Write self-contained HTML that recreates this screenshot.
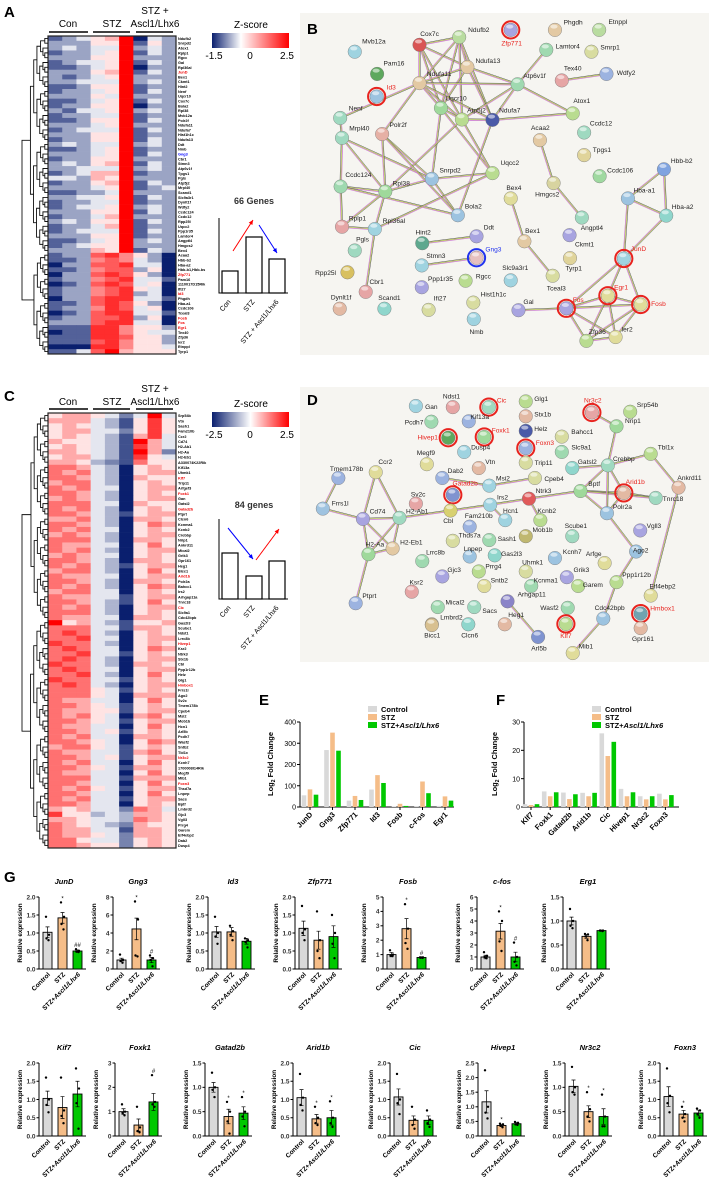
<!DOCTYPE html>
<html><head><meta charset="utf-8"><style>
html,body{margin:0;padding:0;background:#fff;}
svg{display:block;font-family:"Liberation Sans",Arial,sans-serif;}
</style></head><body>
<svg id="fig" width="711" height="1186" viewBox="0 0 711 1186" xmlns="http://www.w3.org/2000/svg">
<defs>
<linearGradient id="zgrad" x1="0" x2="1" y1="0" y2="0">
<stop offset="0" stop-color="#0a1f6e"/><stop offset="0.375" stop-color="#ffffff"/><stop offset="1" stop-color="#ff0000"/></linearGradient>
<linearGradient id="zgrad2" x1="0" x2="1" y1="0" y2="0">
<stop offset="0" stop-color="#0a1f6e"/><stop offset="0.5" stop-color="#ffffff"/><stop offset="1" stop-color="#ff0000"/></linearGradient>
</defs>
<rect x="300" y="13" width="409" height="342" fill="#f6f5f1"/>
<rect x="300" y="387" width="409" height="275" fill="#f6f5f1"/>
<g font-weight="bold" font-size="15">
<text x="4" y="17">A</text>
<text x="307" y="34">B</text>
<text x="4" y="401">C</text>
<text x="307" y="405">D</text>
<text x="259" y="705">E</text>
<text x="496" y="705">F</text>
<text x="4" y="882">G</text>
</g>
<g id="root"></g>
</svg>
<script>
const NS='http://www.w3.org/2000/svg';
const root=document.getElementById('root');
function mk(tag,a,p){const e=document.createElementNS(NS,tag);for(const k in a)e.setAttribute(k,a[k]);(p||root).appendChild(e);return e;}

/* ---------------- Heatmap data ---------------- */
const heatA=["123459032","222449142","232339232","122349132","222449222","123349132","112349022","222459132","212349222","223339232","112449122","122349132","222439222","112349132","122449022","213349232","122339122","112449132","222349222","123339132","222449122","122449132","232339232","112349122","222349132","122449222","232459132","223339232","123559122","332549222","122459132","222349123","112239222","223349132","122339122","123349232","222449132","122359222","232449132","122359122","123339132","222449122","112349232","123449222","222549132","122786420","112676320","022778330","112677240","022787420","122678331","012787340","122678430","122678230","022788331","112787420","122687340","012788331","122778240","222788330","111886442","011886433","111887442","111786442","000886443","113795444"];
const genesA=["Ndufb2","Snrpd2","Atox1","Rplp1","Rgcc","Gal","Rpl36al","JunD","Bex1","Ckmt1","Hint2","Nenf","Uqcr10","Cox7c","Bola2","Rpl38","Mvb12a","Polr2f","Ndufa11","Ndufa7","Hist1h1c","Ndufa13","Ddt","Nmb","Gng3","Cbr1","Stmn3","Atp6v1f","Tpgs1","Pgls","Atp5j2","Mrpl40","Scand1","Slc9a3r1","Dynlt1f","Wdfy2","Ccdc124","Ccdc12","Rpp25l","Uqcc2","Ppp1r35","Lamtor4","Angptl4","Hmgcs2","Bex4","Acaa2","Hbb-b2","Hba-a2","Hbb-b1,Hbb-bs","Zfp771","Pam16","1110017D15Rik","Ifi27","Id3","Phgdh","Hba-a1","Ccdc106","Tceal3","Fosb","Fos","Egr1","Tex40","Zfp36","Ier2","Etnppl","Tyrp1"];
const redA=["JunD","Zfp771","Id3","Fosb","Fos","Egr1"], blueA=["Gng3"];
const heatC=["566542494","666431585","565431585","566442585","565431684","655431964","565431864","665431962","566431854","665321755","776430565","767430566","776430655","677430565","767440566","776430565","676430566","777440655","767430565","776431566","667430665","776430576","767440565","676430566","777430665","766440575","767430566","676440565","776430665","767431566","677430575","766440566","776430665","767430576","677440565","766441566","776431575","767430566","777430565","766440665","956431556","777441665","787430565","778440566","877430565","787440576","778441565","787430566","877430665","787440566","778430575","877441565","787430566","777541565","777540666","766440575","776541565","766551566","767540675","776541566","766440575","776451565","767440665","776540576","677541565","766441675","776451566","767440575","776541665","766440575","777441666","776440575","767541566","776440575","767441566","776440565","656442764","855343665","665443765","765432655","766441665","766542665","775442565","776552565"];
const genesC=["Srp54b","Vtn","Sash1","Fam210b","Ccr2","Cd74","H2-Ab1","H2-Aa","H2-Eb1","A330074K22Rik","Kif13a","Uhmk1","Klf7","Trip11","Arfgef3","Foxk1","Gan","Gatsl2","Gatad2b","Ptprt","Clcn6","Kcnma1","Kcnb2","Crebbp","Nrip1","Ankrd11","Mical2","Grik3","Gpr161","Heg1","Bicc1","Arid1b","Polr2a","Bahcc1","Irs2","Arhgap11a","Tnrc18","Cic","Slc9a1","Cdc42bpb","Gas2l3","Scube1","Ndst1","Lrrc8b","Hivep1","Ksr2","Ntrk3","Stx1b","Cbl","Ppp1r12b","Helz","Glg1","Hmbox1","Frrs1l","Ago2","Sv2c","Tmem178b","Cpeb4","Msi2","Mob1b","Hcn1","Arl5b","Pcdh7","Wasf2","Sntb2","Tbl1x","Nr3c2","Kcnh7","1700008I14Rik","Megf9","Mib1","Foxn3","Thsd7a","Lnpep","Sacs","Bptf","Lmbrd2","Gjc3","Vgll3","Prrg4","Garem","Eif4ebp2","Dab2","Dusp4"];
const redC=["Klf7","Foxk1","Gatad2b","Arid1b","Cic","Hivep1","Hmbox1","Nr3c2","Foxn3"];

function mix(a,b,t){return 'rgb('+[0,1,2].map(i=>Math.round(a[i]+(b[i]-a[i])*t)).join(',')+')';}
function zcol(z,min,max){const W=[255,255,255],B=[10,31,110],R=[255,0,0];
  if(z<0)return mix(W,B,Math.min(1,z/min));return mix(W,R,Math.min(1,z/max));}

function heatmap(rows,genes,reds,blues,min,max,x0,y0,x1,y1,split,name){
  const g=mk('g',{});
  
  
  const cw=(x1-x0)/9, rh=(y1-y0)/rows.length;
  rows.forEach((r,i)=>{
    for(let j=0;j<9;j++){
      const d=+r[j]; const z=min+d*(max-min)/9;
      const c=mk('rect',{x:x0+j*cw,y:y0+i*rh,width:cw+0.3,height:rh+0.3,fill:zcol(z,min,max)},g);
      
      
    }
    const gn=genes[i]||'';
    const t=mk('text',{x:x1+2,y:y0+i*rh+rh*0.8,'font-size':3.8,'font-weight':'bold',fill:reds.includes(gn)?'#e00':(blues.includes(gn)?'#00f':'#000')},g);
    t.textContent=gn;
    
    
  });
  mk('rect',{x:x0,y:y0,width:x1-x0,height:y1-y0,fill:'none',stroke:'#222','stroke-width':1.2},g);
  // dendrogram
  const dg=mk('g',{stroke:'#111','stroke-width':0.9,fill:'none'},g);
  
  
  const maxH=x0-22;
  function build(lo,hi,lvl){
    if(hi-lo===1)return {y:y0+(lo+0.5)*rh,x:x0};
    let mid=(lvl===0&&split)?split:Math.floor((lo+hi)/2);
    const a=build(lo,mid,lvl+1), b=build(mid,hi,lvl+1);
    const n=hi-lo;
    const x=x0-Math.min(maxH,(Math.log2(n)*3.2)+(lvl===0?maxH:0));
    mk('path',{d:`M${a.x},${a.y}H${x}V${b.y}H${b.x}`},dg);
    return {y:(a.y+b.y)/2,x:x};
  }
  build(0,rows.length,0);
}
heatmap(heatA,genesA,redA,blueA,-1.5,2.5,48,36,176,354,45,'heatmap-a');
heatmap(heatC,genesC,redC,[],-2.5,2.5,48,413,176,848,40,'heatmap-c');

/* headers, colorbars, schematics */
function txt(x,y,s,attrs,name){const t=mk('text',Object.assign({x:x,y:y},attrs||{}));t.textContent=s;return t;}
function headers(yT,yM,yL,name){
  txt(68,yM,'Con',{'font-size':10,'text-anchor':'middle'},name+'-con');
  txt(112,yM,'STZ',{'font-size':10,'text-anchor':'middle'},name+'-stz');
  txt(155,yT,'STZ +',{'font-size':10,'text-anchor':'middle'},name+'-treat-1');
  txt(155,yM,'Ascl1/Lhx6',{'font-size':10,'text-anchor':'middle'},name+'-treat-2');
  [[49,88],[93,130],[136,173]].forEach(p=>{const l=mk('line',{x1:p[0],x2:p[1],y1:yL,y2:yL,stroke:'#000','stroke-width':1.5});});
}
headers(14,27,32,'header-a');
headers(392,405,409,'header-c');
function colorbar(y,grad,lo,name){
  txt(251,y-5,'Z-score',{'font-size':10,'text-anchor':'middle'},name+'-title');
  const r=mk('rect',{x:212,y:y,width:77,height:15,fill:'url(#'+grad+')'});
  
  txt(214,y+26,lo,{'font-size':10,'text-anchor':'middle'},name+'-min');
  txt(250,y+26,'0',{'font-size':10,'text-anchor':'middle'},name+'-zero');
  txt(287,y+26,'2.5',{'font-size':10,'text-anchor':'middle'},name+'-max');
}
colorbar(33,'zgrad','-1.5','colorbar-a');
colorbar(412,'zgrad2','-2.5','colorbar-c');

function schematic(title,ty,top,bot,hs,arrows,name){
  txt(254,ty,title,{'font-size':9,'font-weight':'bold','text-anchor':'middle',fill:'#333'},name+'-title');
  mk('path',{d:`M219,${top}V${bot}H288`,fill:'none',stroke:'#000','stroke-width':1});
  const xs=[222,246,269];
  hs.forEach((h,i)=>{const r=mk('rect',{x:xs[i],y:h,width:16,height:bot-h,fill:'none',stroke:'#000','stroke-width':1.2});});
  arrows.forEach(a=>{
    const l=mk('line',{x1:a[0],y1:a[1],x2:a[2],y2:a[3],stroke:a[4],'stroke-width':1});
    
    const ang=Math.atan2(a[3]-a[1],a[2]-a[0]);const s=5;
    mk('path',{d:`M${a[2]},${a[3]}L${a[2]-s*Math.cos(ang-0.45)},${a[3]-s*Math.sin(ang-0.45)}L${a[2]-s*Math.cos(ang+0.45)},${a[3]-s*Math.sin(ang+0.45)}Z`,fill:a[4]});
  });
  const ly=bot+9;
  txt(231,ly,'Con',{'font-size':7,'text-anchor':'end',transform:`rotate(-50 231 ${ly})`},name+'-label-con');
  txt(255,ly,'STZ',{'font-size':7,'text-anchor':'end',transform:`rotate(-50 255 ${ly})`},name+'-label-stz');
  txt(279,ly,'STZ + Ascl1/Lhx6',{'font-size':7,'text-anchor':'end',transform:`rotate(-50 279 ${ly})`},name+'-label-treat');
}
schematic('66 Genes',204,218,293,[271,237,259],[[233,251,253,220,'#f00'],[259,225,277,253,'#00f']],'schematic-a');
schematic('84 genes',508,519,599,[553,576,561],[[228,528,253,559,'#00f'],[256,560,279,529,'#f00']],'schematic-c');

/* ---------------- Networks ---------------- */
const SX=0.456, SY=0.383;
const nodesB=[["Cox7c",920,117,942,88,"#d95454",""],["Ndufb2",1007,97,1050,77,"#b9dca0",""],["Zfp771",1120,78,1122,113,"#a8a4e0","r"],["Phgdh",1217,78,1257,58,"#e3c9a3",""],["Etnppl",1314,78,1355,57,"#b9dca0",""],["Mvb12a",778,135,820,108,"#9fd3e0",""],["Pam16",827,193,864,165,"#5ea85e",""],["Ndufa13",1025,175,1070,158,"#e3c9a3",""],["Ndufa11",920,217,963,192,"#e3c9a3",""],["Lamtor4",1198,130,1245,120,"#9fd9b0",""],["Smrp1",1297,135,1338,123,"#d8dca0",""],["Tex40",1232,210,1256,178,"#e6a5a5",""],["Wdfy2",1330,193,1373,190,"#9cb3e0",""],["Atp6v1f",1135,220,1172,197,"#9fd9b0",""],["Id3",826,252,858,228,"#9cc3e0","r"],["Uqcr10",967,282,1000,256,"#9fd99b",""],["Atp5j2",1013,312,1045,288,"#b9dc90",""],["Ndufa7",1080,313,1118,288,"#4a5aa8",""],["Nenf",746,308,780,283,"#9fd9c0",""],["Atox1",1256,296,1276,263,"#b9dc90",""],["Mrpl40",750,360,788,335,"#9fd9c0",""],["Polr2f",838,350,873,326,"#e6b0a5",""],["Acaa2",1184,366,1185,333,"#e3c9a3",""],["Ccdc12",1281,346,1318,322,"#9fd9c0",""],["Tpgs1",1281,405,1320,391,"#e0d49a",""],["Uqcc2",1080,452,1118,425,"#b9dc90",""],["Snrpd2",947,467,987,445,"#9cc3e0",""],["Ccdc124",747,487,786,456,"#9fd9b0",""],["Rpl38",845,500,880,478,"#9fd99b",""],["Hmgcs2",1214,478,1200,507,"#d8d4a0",""],["Ccdc106",1315,460,1360,444,"#9fd9a0",""],["Hbb-b2",1456,442,1495,420,"#7fa3e0",""],["Bex4",1120,518,1127,490,"#e0dc9a",""],["Hba-a1",1377,518,1413,496,"#9cc3e0",""],["Hba-a2",1461,563,1497,540,"#8fd6cc",""],["Bola2",1004,562,1038,539,"#9cc3e0",""],["Rplp1",750,592,784,570,"#e6a5a5",""],["Rpl36al",822,598,864,576,"#9fd3e0",""],["Hint2",926,635,928,606,"#5ea88e",""],["Ddt",1045,617,1072,593,"#a8a4e0",""],["Angptl4",1276,568,1298,594,"#9fd9c0",""],["Bex1",1150,630,1168,602,"#e3c9a3",""],["Ckmt1",1249,614,1282,637,"#a8a4e0",""],["Pgls",778,654,795,624,"#9fd9c0",""],["Gng3",1045,673,1082,651,"#e6c0c0","b"],["Stmn3",925,693,956,667,"#9fd3e0",""],["JunD",1368,675,1400,649,"#9fd3e0","r"],["Tyrp1",1250,674,1258,700,"#e0d49a",""],["Rpp25l",762,711,714,712,"#d8c060",""],["Slc9a3r1",1120,732,1130,699,"#9fd3e0",""],["Ppp1r35",925,750,966,728,"#a8a4e0",""],["Rgcc",1021,733,1060,721,"#b9dc90",""],["Tceal3",1212,720,1220,752,"#d8dca0",""],["Egr1",1333,772,1362,750,"#e0dc9a","r"],["Cbr1",802,762,826,736,"#e6a5a5",""],["Hist1h1c",1038,790,1082,768,"#d8dca0",""],["Fos",1242,805,1268,782,"#a8a4e0","r"],["Fosb",1405,795,1444,793,"#e0dc9a","r"],["Dynlt1f",745,806,748,776,"#e3b9a3",""],["Scand1",843,806,854,777,"#8fd6cc",""],["Ifi27",940,809,965,779,"#d8dca0",""],["Gal",1137,810,1159,788,"#a8a4e0",""],["Nmb",1039,833,1045,866,"#9fd3e0",""],["Zfp36",1286,890,1310,866,"#b9dc90",""],["Ier2",1350,880,1375,860,"#e0dc9a",""]];
const edgesB=[["Cox7c","Ndufa11"],["Cox7c","Ndufa13"],["Cox7c","Ndufb2"],["Cox7c","Uqcr10"],["Cox7c","Atp5j2"],["Ndufb2","Ndufa13"],["Ndufb2","Ndufa11"],["Ndufb2","Uqcr10"],["Ndufb2","Atp5j2"],["Ndufb2","Ndufa7"],["Ndufa13","Ndufa11"],["Ndufa13","Atp6v1f"],["Ndufa13","Ndufa7"],["Ndufa13","Uqcr10"],["Ndufa11","Uqcr10"],["Ndufa11","Atp5j2"],["Ndufa11","Ndufa7"],["Ndufa11","Atp6v1f"],["Uqcr10","Atp5j2"],["Atp5j2","Ndufa7"],["Atp5j2","Atp6v1f"],["Ndufa7","Atp6v1f"],["Ndufa7","Atox1"],["Atp6v1f","Lamtor4"],["Atp6v1f","Atox1"],["Tex40","Wdfy2"],["Ndufa11","Nenf"],["Ndufa11","Polr2f"],["Mrpl40","Rpl38"],["Mrpl40","Snrpd2"],["Polr2f","Snrpd2"],["Polr2f","Rpl38"],["Snrpd2","Rpl38"],["Snrpd2","Uqcc2"],["Snrpd2","Bola2"],["Uqcr10","Uqcc2"],["Atp5j2","Uqcc2"],["Ndufa7","Bola2"],["Uqcr10","Snrpd2"],["Ccdc124","Rpl38"],["Ccdc124","Mrpl40"],["Ccdc124","Rplp1"],["Ccdc124","Bola2"],["Rpl38","Rplp1"],["Rpl38","Rpl36al"],["Rplp1","Rpl36al"],["Rpl36al","Uqcc2"],["Rpl36al","Cbr1"],["Acaa2","Hmgcs2"],["Hmgcs2","Angptl4"],["Bex4","Bex1"],["Bex1","Tceal3"],["Hint2","Ddt"],["Stmn3","Gng3"],["Hbb-b2","Hba-a1"],["Hbb-b2","Hba-a2"],["Hba-a1","Hba-a2"],["Hba-a1","JunD"],["Hba-a2","JunD"],["JunD","Fos"],["JunD","Egr1"],["JunD","Fosb"],["Fos","Egr1"],["Fos","Fosb"],["Egr1","Fosb"],["Fos","Zfp36"],["Fos","Ier2"],["Egr1","Zfp36"],["Egr1","Ier2"],["Fosb","Zfp36"],["Fosb","Ier2"],["Zfp36","Ier2"],["Gal","Fos"],["Atp5j2","Rpl38"],["Polr2f","Bola2"],["Mrpl40","Nenf"]];
const nodesD=[["Gan",912,1060,946,1062,"#9fd3e0",""],["Ndst1",993,1063,990,1035,"#e6a5a5",""],["Cic",1072,1063,1100,1045,"#9fd9c0","r"],["Glg1",1153,1048,1187,1041,"#b9dc90",""],["Nr3c2",1298,1077,1300,1045,"#e6a5a5","r"],["Srp54b",1382,1075,1420,1057,"#b9dc90",""],["Pcdh7",946,1101,908,1102,"#9fd9b0",""],["Kif13a",1028,1100,1052,1088,"#9cb3e0",""],["Stx1b",1153,1087,1190,1082,"#e3b9a3",""],["Nrip1",1352,1113,1388,1098,"#9fd99b",""],["Foxk1",1062,1141,1098,1123,"#9fd99b","r"],["Helz",1153,1125,1186,1119,"#4a5aa8",""],["Bahcc1",1232,1140,1277,1127,"#d8dca0",""],["Hivep1",983,1143,938,1142,"#5ea85e","r"],["Foxn3",1153,1170,1195,1156,"#9cb3e0","r"],["Dusp4",1018,1180,1054,1168,"#9fd3e0",""],["Slc9a1",1232,1180,1275,1167,"#9fd9b0",""],["Tbl1x",1427,1185,1460,1167,"#b9dc90",""],["Megf9",936,1212,934,1182,"#e0dc9a",""],["Vtn",1050,1222,1075,1206,"#e3b9a3",""],["Trip11",1153,1208,1192,1208,"#d8dca0",""],["Gatsl2",1255,1222,1288,1205,"#8fd6cc",""],["Crebbp",1333,1215,1368,1197,"#9fd9c0",""],["Tmem178b",742,1248,760,1224,"#9cb3e0",""],["Ccr2",824,1233,845,1206,"#e0dc9a",""],["Dab2",970,1248,999,1229,"#9cb3e0",""],["Cpeb4",1173,1248,1215,1250,"#d8dca0",""],["Ankrd11",1488,1273,1512,1247,"#e3b9a3",""],["Gatad2b",993,1292,1020,1262,"#7f93d0","r"],["Msi2",1073,1268,1103,1249,"#9fd3e0",""],["Ntrk3",1160,1302,1192,1281,"#e05a5a",""],["Bptf",1273,1282,1303,1263,"#9fd99b",""],["Arid1b",1368,1287,1393,1258,"#e3b9a3","r"],["Sv2c",912,1315,917,1290,"#e6a5a5",""],["Irs2",1075,1318,1102,1298,"#9fd3e0",""],["Tnrc18",1438,1300,1476,1302,"#9fd9c0",""],["Frrs1l",708,1328,746,1314,"#9fc3e0",""],["Cd74",796,1355,828,1335,"#a8a4e0",""],["H2-Ab1",876,1352,915,1335,"#9fd9c0",""],["Cbl",988,1333,983,1360,"#d8d070",""],["Fam210b",1030,1375,1050,1347,"#9cb3e0",""],["Hcn1",1108,1358,1120,1334,"#9fd3e0",""],["Kcnb2",1185,1358,1199,1333,"#b9dc90",""],["Polr2a",1331,1340,1365,1323,"#9cc3e0",""],["Vgll3",1404,1385,1434,1373,"#a8a4e0",""],["Scube1",1255,1400,1263,1373,"#9fd9c0",""],["Mob1b",1153,1400,1190,1383,"#c0b870",""],["Thds7a",993,1412,1030,1397,"#d8dca0",""],["Sash1",1073,1410,1112,1406,"#9fd9b0",""],["H2-Aa",808,1447,822,1421,"#9fd99b",""],["H2-Eb1",861,1432,902,1416,"#e3c9a3",""],["Lrrc8b",926,1465,955,1442,"#9fd9b0",""],["Lnpep",1030,1453,1037,1433,"#9cc3e0",""],["Gas2l3",1085,1450,1122,1446,"#8fd6cc",""],["Kcnh7",1217,1457,1255,1440,"#9cc3e0",""],["Arfge",1326,1470,1302,1446,"#e0dc9a",""],["Ago2",1395,1440,1405,1436,"#9cc3e0",""],["Gjc3",970,1505,996,1488,"#a8a4e0",""],["Prrg4",1050,1492,1082,1478,"#b9dc90",""],["Uhmk1",1153,1492,1168,1468,"#d8dca0",""],["Grik3",1243,1507,1275,1488,"#a8a4e0",""],["Ppp1r12b",1352,1520,1396,1501,"#b9dc90",""],["Ksr2",903,1545,913,1520,"#e6a5a5",""],["Sntb2",1062,1530,1095,1515,"#e0dc9a",""],["Kcnma1",1165,1530,1197,1515,"#9fd9b0",""],["Garem",1268,1530,1300,1527,"#b9dc90",""],["Eif4ebp2",1427,1555,1453,1530,"#e0dc9a",""],["Ptprt",780,1575,810,1555,"#9cb3e0",""],["Arhgap11",1113,1570,1166,1552,"#8a84c8",""],["Mical2",960,1585,998,1572,"#9fd9b0",""],["Sacs",1040,1585,1074,1594,"#9fd9c0",""],["Lmbrd2",947,1630,990,1612,"#d8c090",""],["Clcn6",1027,1630,1030,1658,"#8fd6cc",""],["Bicc1",947,1632,948,1658,"#d8c090",""],["Heg1",1107,1630,1132,1605,"#e3b9a3",""],["Arl5b",1180,1663,1182,1693,"#7f93d0",""],["Wasf2",1245,1587,1205,1587,"#9fd9b0",""],["Klf7",1241,1629,1241,1660,"#b9dc90","r"],["Cdc42bpb",1323,1615,1337,1587,"#9cc3e0",""],["Mib1",1256,1705,1285,1687,"#e0dc9a",""],["Hmbox1",1405,1602,1453,1588,"#6fa3b0","r"],["Gpr161",1405,1640,1410,1668,"#e3b9a3",""]];
const edgesD=[["Tmem178b","Frrs1l"],["Ccr2","Cd74"],["Ccr2","H2-Ab1"],["Cd74","H2-Ab1"],["Cd74","H2-Aa"],["Cd74","H2-Eb1"],["H2-Ab1","H2-Aa"],["H2-Ab1","H2-Eb1"],["H2-Aa","H2-Eb1"],["H2-Aa","Ptprt"],["Frrs1l","Cd74"],["H2-Ab1","Cbl"],["Cbl","Irs2"],["Irs2","Ntrk3"],["Ntrk3","Bptf"],["Msi2","Cpeb4"],["Dab2","Msi2"],["Bptf","Arid1b"],["Arid1b","Tnrc18"],["Bptf","Tnrc18"],["Crebbp","Bptf"],["Crebbp","Arid1b"],["Crebbp","Polr2a"],["Crebbp","Tbl1x"],["Tbl1x","Ankrd11"],["Crebbp","Nrip1"],["Nr3c2","Nrip1"],["Polr2a","Bptf"],["Polr2a","Arid1b"],["Polr2a","Ago2"],["Ago2","Ppp1r12b"],["Ppp1r12b","Cdc42bpb"],["Cdc42bpb","Mib1"],["Ankrd11","Eif4ebp2"],["Arhgap11","Arl5b"],["Gatsl2","Crebbp"],["Ntrk3","Kcnb2"],["Irs2","Hcn1"]];

function network(nodes,edges,name){
  const g=mk('g',{});
  
  
  const idx={};nodes.forEach(n=>idx[n[0]]=n);
  const eg=mk('g',{},g);
  edges.forEach(e=>{const a=idx[e[0]],b=idx[e[1]];if(!a||!b)return;
    const x1=a[1]*SX,y1=a[2]*SY,x2=b[1]*SX,y2=b[2]*SY;
    const dx=x2-x1,dy=y2-y1,L=Math.hypot(dx,dy)||1,ox=-dy/L*0.8,oy=dx/L*0.8;
    const l1=mk('line',{x1:x1+ox,y1:y1+oy,x2:x2+ox,y2:y2+oy,stroke:'#cf7fd6','stroke-width':0.8},eg);
    
    
    mk('line',{x1:x1,y1:y1,x2:x2,y2:y2,stroke:'#b8c85a','stroke-width':0.8},eg);
    mk('line',{x1:x1-ox,y1:y1-oy,x2:x2-ox,y2:y2-oy,stroke:'#555','stroke-width':0.5},eg);
  });
  nodes.forEach(n=>{
    const cx=n[1]*SX,cy=n[2]*SY;
    if(n[6]){const ring=mk('circle',{cx:cx,cy:cy,r:8.6,fill:'none',stroke:n[6]==='r'?'#e8231e':'#2233ee','stroke-width':2},g);
      }
    const c=mk('circle',{cx:cx,cy:cy,r:6.8,fill:n[5],stroke:'#777','stroke-width':0.4},g);
    
    
    mk('ellipse',{cx:cx-1,cy:cy-3.3,rx:3.6,ry:2,fill:'#fff',opacity:0.55},g);
    const t=mk('text',{x:n[3]*SX,y:n[4]*SY+2.3,'font-size':6.6,'text-anchor':'middle',fill:n[6]==='r'?'#e8231e':(n[6]==='b'?'#2233ee':'#222')},g);
    t.textContent=n[0];
    
    
  });
}
network(nodesB,edgesB,'network-b');
network(nodesD,edgesD,'network-d');

/* ---------------- E / F fold change bars ---------------- */
const catsE=["JunD","Gng3","Zfp771","Id3","Fosb","c-Fos","Egr1"];
const ctrlE=[55,268,30,82,3,2,5];
const stzE=[83,350,52,150,15,120,50];
const trtE=[58,265,33,113,5,65,30];
const ticksE=[0,100,200,300,400];
const catsF=["Klf7","Foxk1","Gatad2b","Arid1b","Cic","Hivep1","Nr3c2","Foxn3"];
const ctrlF=[1,5.5,5.1,5,26,6.4,3.8,4.7];
const stzF=[0.7,3.8,2.8,3.8,18,3.8,2.7,2.7];
const trtF=[1,5.2,4.5,5,23,5.2,3.8,4.2];
const ticksF=[0,10,20,30];
const COLS=['#d9d9d9','#f5bd88','#00c800'];

function foldChart(cats,series,ticks,ymax,ax,axEnd,c0,step,name){
  const g=mk('g',{});
  
  
  const y0=807,y1=722;
  const Y=v=>y0-(v/ymax)*(y0-y1);
  mk('path',{d:`M${ax},${y1}V${y0}H${axEnd}`,fill:'none',stroke:'#000','stroke-width':1},g);
  ticks.forEach(t=>{mk('line',{x1:ax-3,x2:ax,y1:Y(t),y2:Y(t),stroke:'#000','stroke-width':1},g);
    const tl=txt(ax-4,Y(t)+2.6,String(t),{'font-size':7,'text-anchor':'end'},'y-tick-label');g.appendChild(tl);});
  cats.forEach((c,i)=>{const cx=c0+i*step;
    series.forEach((s,k)=>{const r=mk('rect',{x:cx+(k-1)*6-2.3,y:Y(s[i]),width:4.6,height:y0-Y(s[i]),fill:COLS[k]},g);
      
      });
    mk('line',{x1:cx,x2:cx,y1:y0,y2:y0+3,stroke:'#000'},g);
    const tl=txt(cx+3,y0+8,c,{'font-size':7.5,'font-weight':'bold','text-anchor':'end',transform:`rotate(-45 ${cx+3} ${y0+8})`},'x-tick-label');g.appendChild(tl);
  });
  const yt=mk('text',{x:0,y:0,'font-size':7.5,'font-weight':'bold','text-anchor':'middle',transform:`translate(${ax-27},764) rotate(-90)`},g);
  yt.innerHTML='Log<tspan font-size="5" dy="2">2</tspan><tspan dy="-2"> Fold Change</tspan>';
  
  
  const lx=ax+68;
  ['Control','STZ','STZ+'].forEach((s,k)=>{
    const r=mk('rect',{x:lx,y:706+k*8,width:9,height:6,fill:COLS[k]},g);
    
    const t=mk('text',{x:lx+13,y:712+k*8,'font-size':7.5,'font-weight':'bold'},g);
    t.innerHTML=k===2?'STZ+<tspan font-style="italic">Ascl1/Lhx6</tspan>':s;
    
  });
}
foldChart(catsE,[ctrlE,stzE,trtE],ticksE,400,300,454,310,22.5,'chart-e');
foldChart(catsF,[ctrlF,stzF,trtF],ticksF,30,524,679,531,19.2,'chart-f');

/* ---------------- G qPCR bars ---------------- */
const gTitles=["JunD","Gng3","Id3","Zfp771","Fosb","c-fos","Erg1","Kif7","Foxk1","Gatad2b","Arid1b","Cic","Hivep1","Nr3c2","Foxn3"];
const gMeans=[[1.02,1.42,0.5],[1.0,4.45,1.0],[1.03,1.03,0.77],[1.13,0.8,0.9],[1.0,2.8,0.8],[1.0,3.15,1.0],[1.0,0.68,0.8],[1.03,0.78,1.15],[1.0,0.45,1.4],[1.0,0.4,0.47],[1.05,0.47,0.5],[1.07,0.43,0.43],[1.17,0.36,0.42],[1.02,0.5,0.4],[1.08,0.6,0.63]];
const gSem=[[0.15,0.15,0.03],[0.2,1.2,0.3],[0.15,0.12,0.08],[0.2,0.25,0.3],[0.15,0.7,0.05],[0.15,0.65,0.4],[0.08,0.04,0.01],[0.2,0.3,0.35],[0.12,0.25,0.35],[0.1,0.15,0.13],[0.22,0.12,0.2],[0.22,0.12,0.12],[0.38,0.03,0.04],[0.13,0.12,0.16],[0.27,0.1,0.08]];
const gPts=[[[1.45,0.95,0.85,0.8],[1.85,1.45,1.25,1.1],[0.55,0.5,0.48,0.47]],[[1.6,1.0,0.9,0.7],[7.5,5.5,1.5,1.4],[1.5,1.2,1.0,0.3]],[[1.45,1.0,0.9,0.7],[1.2,1.05,0.95,0.8],[0.85,0.8,0.75,0.6]],[[1.75,1.1,1.0,0.8],[1.6,0.8,0.5,0.3],[1.5,1.0,0.7,0.3]],[[1.3,1.0,0.95,0.9],[4.5,2.8,1.8,1.4],[0.8,0.8,0.78,0.77]],[[1.4,1.1,1.0,0.9],[4.8,4.0,2.3,1.5],[2.2,1.0,0.6,0.3]],[[1.25,1.0,0.9,0.85],[0.73,0.72,0.68,0.6],[0.8,0.8,0.8,0.79]],[[1.6,1.0,0.85,0.65],[1.6,0.7,0.55,0.35],[1.85,1.3,0.9,0.2]],[[1.3,1.0,0.95,0.85],[1.2,0.35,0.2,0.15],[2.5,1.4,1.3,1.2]],[[1.3,1.0,0.95,0.8],[0.7,0.5,0.3,0.05],[0.8,0.5,0.4,0.2]],[[1.7,1.05,0.85,0.7],[0.8,0.5,0.35,0.3],[0.95,0.5,0.35,0.25]],[[1.7,1.0,0.9,0.6],[0.8,0.45,0.3,0.2],[0.7,0.45,0.35,0.25]],[[2.25,1.0,0.8,0.6],[0.42,0.4,0.35,0.3],[0.48,0.45,0.4,0.38]],[[1.42,1.0,0.9,0.85],[0.9,0.55,0.4,0.3],[0.85,0.4,0.2,0.2]],[[1.85,1.1,0.9,0.65],[0.8,0.6,0.5,0.4],[0.75,0.7,0.6,0.5]]];
const gYmax=[2,8,2,2,5,6,1.5,2,3,1.5,2,2,2.5,1.5,2];
const gTicks=[[0,0.5,1,1.5,2],[0,2,4,6,8],[0,0.5,1,1.5,2],[0,0.5,1,1.5,2],[0,1,2,3,4,5],[0,1,2,3,4,5,6],[0,0.5,1,1.5],[0,0.5,1,1.5,2],[0,1,2,3],[0,0.5,1,1.5],[0,0.5,1,1.5,2],[0,0.5,1,1.5,2],[0,0.5,1,1.5,2,2.5],[0,0.5,1,1.5],[0,0.5,1,1.5,2]];
const gSig=[["","*","##"],["","*","#"],["","",""],["","",""],["","*","#"],["","*","#"],["","",""],["","",""],["","","#"],["","*","*"],["","*","*"],["","",""],["","*",""],["","*","*"],["","*",""]];
const gAxisX=[39,113,208,295,383,477,563,39,115,205,293,390,478,565,660];

function qchart(i){
  const row=i<7?0:1;
  const top=row?1063:897, bot=row?1136:969, ax=gAxisX[i];
  const ymax=gYmax[i];
  const Y=v=>bot-(v/ymax)*(bot-top);
  const g=mk('g',{});
  
  
  const tt=txt(ax+25,top-13,gTitles[i],{'font-size':7.5,'font-weight':'bold','font-style':'italic','text-anchor':'middle'},'chart-title');g.appendChild(tt);
  mk('path',{d:`M${ax},${top}V${bot}H${ax+47}`,fill:'none',stroke:'#000','stroke-width':1},g);
  gTicks[i].forEach(t=>{mk('line',{x1:ax-2.5,x2:ax,y1:Y(t),y2:Y(t),stroke:'#000'},g);
    const l=txt(ax-3.5,Y(t)+2.3,(ymax<=2.5?t.toFixed(1):String(t)),{'font-size':6.5,'font-weight':'bold','text-anchor':'end',fill:'#333'},'y-tick-label');g.appendChild(l);});
  const yl=txt(0,0,'Relative expression',{'font-size':6.3,'font-weight':'bold','text-anchor':'middle',transform:`translate(${ax-17},${(top+bot)/2}) rotate(-90)`},'y-axis-title');g.appendChild(yl);
  const names=['Control','STZ','STZ+'];
  gMeans[i].forEach((m,k)=>{
    const x=ax+4+k*15, cx=x+4.5;
    const r=mk('rect',{x:x,y:Y(m),width:9,height:bot-Y(m),fill:COLS[k],stroke:'#000','stroke-width':0.9},g);
    
    
    const s=gSem[i][k];
    mk('path',{d:`M${cx},${Y(m)}V${Y(m+s)}M${cx-2},${Y(m+s)}H${cx+2}M${cx},${Y(m)}V${Y(Math.max(0,m-s))}M${cx-2},${Y(Math.max(0,m-s))}H${cx+2}`,stroke:'#000','stroke-width':0.7,fill:'none'},g);
    gPts[i][k].forEach((p,j)=>{const d=mk('circle',{cx:cx+[-1.5,1.5,-1,1][j],cy:Y(p),r:1.2,fill:'#000'},g);
      });
    if(gSig[i][k]){const hi=Math.max(m+s,...gPts[i][k]);const st=txt(cx,Y(hi)-2,gSig[i][k],{'font-size':6,'text-anchor':'middle'},'significance-mark');g.appendChild(st);}
    const lx=cx+3,ly=bot+6;
    const t=mk('text',{x:lx,y:ly,'font-size':6.5,'font-weight':'bold','text-anchor':'end',transform:`rotate(-45 ${lx} ${ly})`},g);
    t.innerHTML=k===2?'STZ+<tspan font-style="italic">Ascl1/Lhx6</tspan>':names[k];
    
    
  });
}
for(let i=0;i<gTitles.length;i++)qchart(i);
</script>
</body></html>
